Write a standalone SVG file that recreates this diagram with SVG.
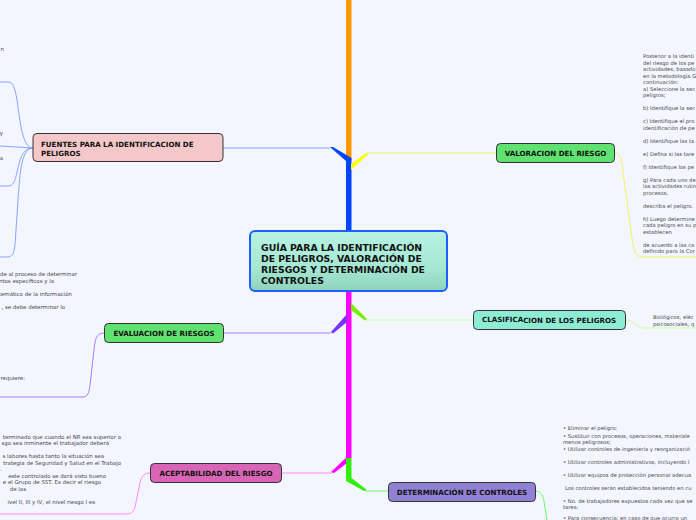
<svg xmlns="http://www.w3.org/2000/svg" width="696" height="520" viewBox="0 0 696 520">
<defs>
<linearGradient id="cg" x1="0" y1="0" x2="0" y2="1">
<stop offset="0" stop-color="#b8f2e2"/>
<stop offset="0.6" stop-color="#a6e8d4"/>
<stop offset="1" stop-color="#8ed2bc"/>
</linearGradient>
</defs>
<style>
.node{stroke:#333;stroke-width:1}
.nt{font-family:"DejaVu Sans",Verdana,sans-serif;font-weight:bold;font-size:7.1px;fill:#111}
.t{font-family:"DejaVu Sans",Verdana,sans-serif;font-size:5.45px;fill:#484848}
.s{font-size:5.25px}
.c{fill:none;stroke-width:1}
</style>
<rect width="696" height="520" fill="#f3f6fe"/>
<g id="connectors">
<rect x="346" y="0" width="5.5" height="160" fill="#ff9900"/>
<polygon points="330,147 333,147 351.5,158 351.5,232 346,232 346,161" fill="#0044ff"/>
<polygon points="351,164 366,153 368,154.5 351,170" fill="#ffff00"/>
<rect x="346" y="291" width="5.5" height="167" fill="#ff00ff"/>
<polygon points="351,303 367,319 365,320.5 351,310" fill="#77ee00"/>
<polygon points="347,314 331,332 333,333.5 347,322" fill="#7733ff"/>
<polygon points="351,453 331,472 334,473 351,460" fill="#ff00ff"/>
<polygon points="346,458 351.5,458 351.5,478 367,490 364,491 346,481" fill="#33ee11"/>
<path class="c" stroke="#8aa4ff" d="M223,148 L330,148"/>
<path class="c" stroke="#f2f266" d="M367,153 L496,153"/>
<path class="c" stroke="#ccff99" d="M366,320 L473,320"/>
<path class="c" stroke="#a77cff" d="M331,333 L223,333"/>
<path class="c" stroke="#ff88ff" d="M332,473 L282,473"/>
<path class="c" stroke="#66ff66" d="M365,491 L388,491"/>
<path class="c" stroke="#8aa4ff" d="M33,148 C22,148 20,120 17,100 C15,88 13,82 8,82 L0,82"/>
<path class="c" stroke="#8aa4ff" d="M33,148 L0,146"/>
<path class="c" stroke="#8aa4ff" d="M33,148 C22,148 20,160 17,172 C15,182 13,186 8,186 L0,186"/>
<path class="c" stroke="#8aa4ff" d="M33,148 C22,148 20,170 18,200 L15,245 C14,254 12,257 7,257 L0,257"/>
<path class="c" stroke="#a77cff" d="M104,333 C96,333 95,340 94,350 L90,385 C89,393 88,397 82,397 L0,397"/>
<path class="c" stroke="#ff88ff" d="M150,473 C142,473 140,480 139,488 L135,507 C133,513 131,514 126,514 L0,514"/>
<path class="c" stroke="#f2f266" d="M615,153 C622,153 622,165 624,180 L633,245 C635,255 637,257 645,257 L696,257"/>
<path class="c" stroke="#ccff99" d="M626,320 C634,320 636,328 645,328 L696,328"/>
<path class="c" stroke="#66ff66" d="M536,491 C543,491 544,500 545,508 L547,520"/>
</g>
<g id="center">
<rect x="250" y="231" width="197" height="60" rx="5" fill="url(#cg)" stroke="#1f5fff" stroke-width="2"/>
<text font-family="DejaVu Sans,Verdana,sans-serif" font-weight="bold" font-size="9.3px" fill="#111">
<tspan x="261" y="251">GUÍA PARA LA IDENTIFICACIÓN</tspan>
<tspan x="261" y="262">DE PELIGROS, VALORACIÓN DE</tspan>
<tspan x="261" y="273">RIESGOS Y DETERMINACIÓN DE</tspan>
<tspan x="261" y="284">CONTROLES</tspan>
</text>
</g>
<g id="fuentes">
<rect class="node" x="33" y="133.5" width="190" height="28" rx="4" fill="#f4c8c8"/>
<text class="nt"><tspan x="41" y="147">FUENTES PARA LA IDENTIFICACION DE</tspan><tspan x="41" y="155.5">PELIGROS</tspan></text>
<text class="t" x="4" y="51" text-anchor="end">n</text>
<text class="t" x="3" y="135" text-anchor="end">y</text>
<text class="t" x="3" y="160" text-anchor="end">a</text>
</g>
<g id="evaluacion">
<rect class="node" x="104.5" y="323.5" width="119" height="19" rx="4" fill="#5fe270"/>
<text class="nt" x="164" y="336" text-anchor="middle">EVALUACION DE RIESGOS</text>
<text class="t" text-anchor="end"><tspan x="77" y="276">de al proceso de determinar</tspan><tspan x="54" y="283">ntos específicos y la</tspan><tspan x="72" y="296">temático de la información</tspan><tspan x="65" y="309">, se debe determinar lo</tspan><tspan x="25" y="380">requiere:</tspan></text>
</g>
<g id="aceptabilidad">
<rect class="node" x="150.5" y="463.5" width="131" height="19" rx="4" fill="#d865b5"/>
<text class="nt" x="216" y="476" text-anchor="middle">ACEPTABILIDAD DEL RIESGO</text>
<text class="t" text-anchor="end"><tspan x="121" y="439">terminado que cuando el NR sea superior o</tspan><tspan x="109" y="445">sgo sea inminente el trabajador deberá</tspan><tspan x="104" y="458">s labores hasta tanto la situación sea</tspan><tspan x="121" y="465">trategia de Seguridad y Salud en el Trabajo</tspan><tspan x="2" y="471">.</tspan><tspan x="106" y="478">este controlado se dará visto bueno</tspan><tspan x="101" y="484">e el Grupo de SST. Es decir el riesgo</tspan><tspan x="26" y="491">de las</tspan><tspan x="95" y="504">ivel II, III y IV, el nivel riesgo I es</tspan></text>
</g>
<g id="valoracion">
<rect class="node" x="496.5" y="143.5" width="118" height="19" rx="4" fill="#5fe270"/>
<text class="nt" x="555.5" y="156" text-anchor="middle">VALORACION DEL RIESGO</text>
<text class="t s"><tspan x="643" y="58">Posterior a la identi</tspan><tspan x="643" y="64.5">del riesgo de los pe</tspan><tspan x="643" y="71">actividades, basado</tspan><tspan x="643" y="77.5">en la metodología G</tspan><tspan x="643" y="84">continuación:</tspan><tspan x="643" y="90.5">a) Seleccione la sec</tspan><tspan x="643" y="97">peligros;</tspan><tspan x="643" y="110">b) Identifique la sec</tspan><tspan x="643" y="123">c) Identifique el pro</tspan><tspan x="643" y="129.5">identificación de pe</tspan><tspan x="643" y="142.5">d) Identifique las ta</tspan><tspan x="643" y="155.5">e) Defina si las tare</tspan><tspan x="643" y="168.5">f) Identifique los pe</tspan><tspan x="643" y="181.5">g) Para cada uno de</tspan><tspan x="643" y="188">las actividades rutin</tspan><tspan x="643" y="194.5">procesos,</tspan><tspan x="643" y="207.5">describa el peligro.</tspan><tspan x="643" y="220.5">h) Luego determine</tspan><tspan x="643" y="227">cada peligro en su p</tspan><tspan x="643" y="233.5">establecen</tspan><tspan x="643" y="246.5">de acuerdo a las ca</tspan><tspan x="643" y="253">definido para la Cor</tspan></text>
</g>
<g id="clasificacion">
<rect class="node" x="473.5" y="310.5" width="152" height="19" rx="4" fill="#8eecd4"/>
<text class="nt" x="482" y="322">CLASIFICA<tspan dy="1">CION DE LOS PELIGROS</tspan></text>
<text class="t s"><tspan x="653" y="319">Biológicos, eléc</tspan><tspan x="653" y="325.5">psicosociales, q</tspan></text>
</g>
<g id="determinacion">
<rect class="node" x="388.5" y="482.5" width="147" height="19" rx="4" fill="#9181d4"/>
<text class="nt" x="462" y="495" text-anchor="middle">DETERMINACIÓN DE CONTROLES</text>
<text class="t s"><tspan x="563" y="430">• Eliminar el peligro;</tspan><tspan x="563" y="438">• Sustituir con procesos, operaciones, materiale</tspan><tspan x="563" y="444">menos peligrosos;</tspan><tspan x="563" y="451">• Utilizar controles de ingeniería y reorganizació</tspan><tspan x="563" y="464">• Utilizar controles administrativos, incluyendo l</tspan><tspan x="563" y="477">• Utilizar equipos de protección personal adecua</tspan><tspan x="565" y="490">Los controles serán establecidos teniendo en cu</tspan><tspan x="563" y="503">• No. de trabajadores expuestos cada vez que se</tspan><tspan x="563" y="509">tarea.</tspan><tspan x="563" y="520">• Para consecuencia: en caso de que ocurra un</tspan></text>
</g>
</svg>
